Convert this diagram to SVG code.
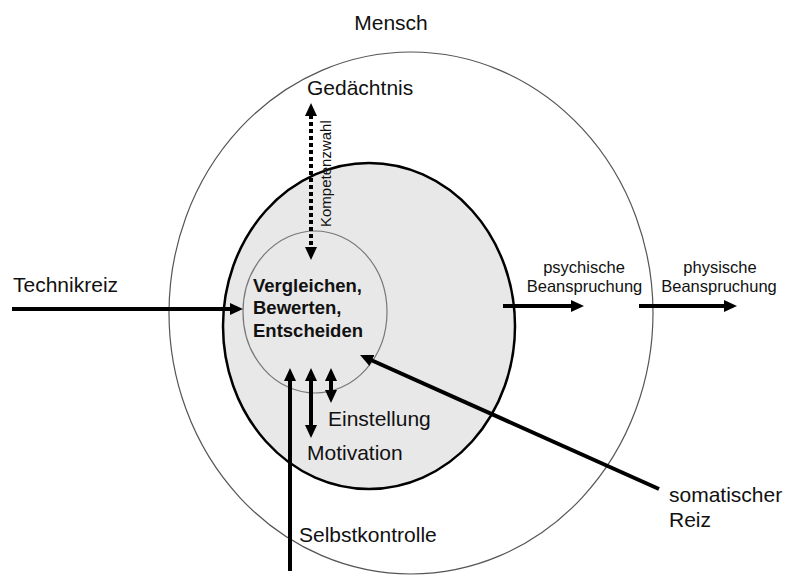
<svg xmlns="http://www.w3.org/2000/svg" width="786" height="576" viewBox="0 0 786 576">
<style>
.t{font-family:"Liberation Sans",Arial,sans-serif;font-size:21px;fill:#111}
.s{font-family:"Liberation Sans",Arial,sans-serif;font-size:16.5px;fill:#111;text-anchor:middle}
.b{font-family:"Liberation Sans",Arial,sans-serif;font-size:18.5px;font-weight:bold;fill:#111}
.k{font-family:"Liberation Sans",Arial,sans-serif;font-size:15px;fill:#111}
.a{stroke:#000;stroke-width:4;fill:none}
</style>
<defs>
<marker id="ah" markerUnits="userSpaceOnUse" markerWidth="14" markerHeight="14" viewBox="0 -7 14 14" refX="1" refY="0" orient="auto-start-reverse">
<path d="M0,-6 L13,0 L0,6 z" fill="#000"/>
</marker>
</defs>
<rect width="786" height="576" fill="#fff"/>
<g id="mensch">
<ellipse cx="411" cy="313" rx="242" ry="261" fill="none" stroke="#555" stroke-width="1.2"/>
<text class="t" x="391" y="30" text-anchor="middle">Mensch</text>
</g>
<g id="psyche">
<ellipse cx="369" cy="326" rx="146" ry="163" fill="#e8e8e8" stroke="#000" stroke-width="2.5"/>
</g>
<g id="kern">
<ellipse cx="315" cy="312" rx="72" ry="81" fill="#e8e8e8" stroke="#777" stroke-width="1.2"/>
<text class="b" x="253" y="292">Vergleichen,</text>
<text class="b" x="253" y="314">Bewerten,</text>
<text class="b" x="253" y="337">Entscheiden</text>
</g>
<g id="gedaechtnis"><text class="t" x="307" y="95">Gedächtnis</text></g>
<g id="technikreiz"><text class="t" x="13" y="292">Technikreiz</text></g>
<g id="einstellung"><text class="t" x="328" y="426">Einstellung</text></g>
<g id="motivation"><text class="t" x="307" y="460">Motivation</text></g>
<g id="selbstkontrolle"><text class="t" x="299" y="542">Selbstkontrolle</text></g>
<g id="somatisch"><text class="t" x="669" y="502">somatischer</text><text class="t" x="669" y="527">Reiz</text></g>
<g id="psychisch"><text class="s" x="584" y="273">psychische</text><text class="s" x="584.5" y="292">Beanspruchung</text></g>
<g id="physisch"><text class="s" x="720" y="273">physische</text><text class="s" x="719" y="292">Beanspruchung</text></g>
<g id="connectors">
<line class="a" x1="311" y1="115" x2="311" y2="248" stroke-dasharray="4 3" marker-start="url(#ah)" marker-end="url(#ah)"/>
<text class="k" transform="translate(331,227) rotate(-90)">Kompetenzwahl</text>
<line class="a" x1="12" y1="309" x2="231" y2="309" marker-end="url(#ah)"/>
<line class="a" x1="503" y1="306" x2="572" y2="306" marker-end="url(#ah)"/>
<line class="a" x1="639" y1="306" x2="725" y2="306" marker-end="url(#ah)"/>
<line class="a" x1="659" y1="489" x2="371" y2="360" marker-end="url(#ah)"/>
<line class="a" x1="290" y1="571" x2="290" y2="380" marker-end="url(#ah)"/>
<line class="a" x1="311" y1="380" x2="311" y2="426" marker-start="url(#ah)" marker-end="url(#ah)"/>
<line class="a" x1="331" y1="380" x2="331" y2="391" marker-start="url(#ah)" marker-end="url(#ah)"/>
</g>
</svg>
